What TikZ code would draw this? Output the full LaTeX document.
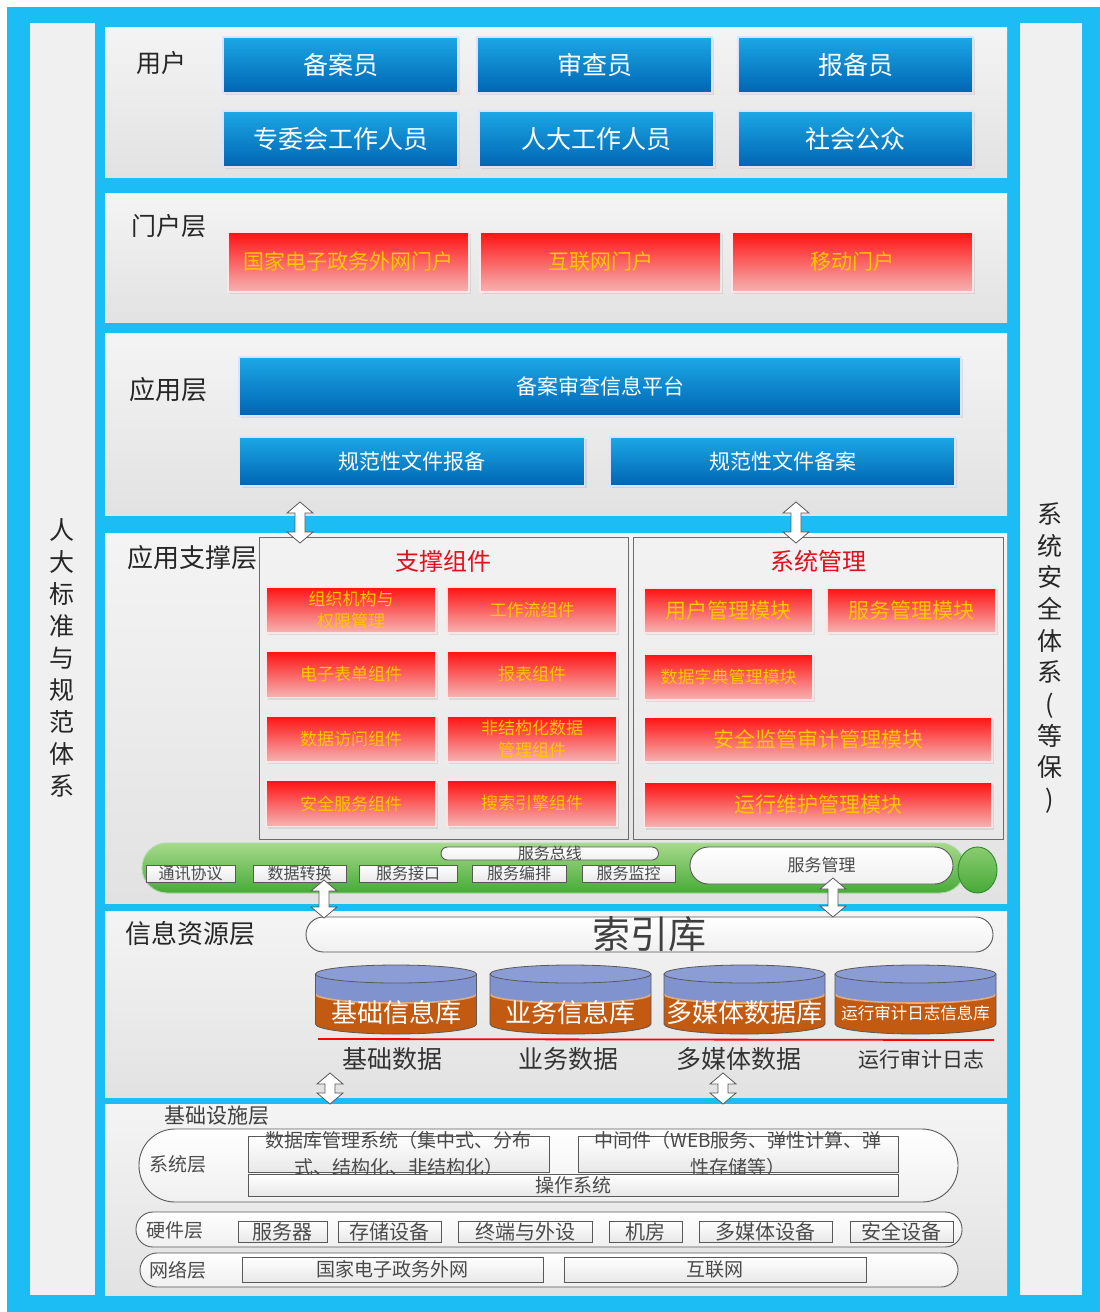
\documentclass[tikz,border=0pt]{standalone}
\usepackage{fontspec}
\setmainfont{Noto Sans CJK SC}
\usetikzlibrary{shapes.geometric,shadows}
\definecolor{frameblue}{HTML}{1CBDF4}
\definecolor{panelT}{HTML}{F4F4F4}
\definecolor{panelB}{HTML}{E2E2E2}
\definecolor{sidegray}{HTML}{F0F0F0}
\definecolor{blueT}{HTML}{1CA8E6}
\definecolor{blueB}{HTML}{0064B2}
\definecolor{redT}{HTML}{FF1212}
\definecolor{redB}{HTML}{F6B4B4}
\definecolor{yel}{HTML}{FFC800}
\definecolor{titlered}{HTML}{E3101C}
\definecolor{greenT}{HTML}{A6DA8A}
\definecolor{greenB}{HTML}{47AA37}
\definecolor{greenD}{HTML}{2E8B2A}
\definecolor{cylblue}{HTML}{8193CF}
\definecolor{cyltop}{HTML}{8C9DD6}
\definecolor{cylorange}{HTML}{C25A12}
\definecolor{cyltan}{HTML}{E2AC7E}
\definecolor{edge}{HTML}{595959}
\definecolor{txtgray}{HTML}{4A4A4A}
\newcommand\fs[2]{\fontsize{#1}{#2}\selectfont}
\newcommand\drum[4]{%
\begin{scope}[shift={(#1,0)}]
 \fill[cylblue] (-80.5,974) -- (-80.5,994) arc[start angle=180,end angle=360,x radius=80.5pt,y radius=9pt] -- (80.5,974) -- cycle;
 \fill[cylorange] (-80.5,994) arc[start angle=180,end angle=360,x radius=80.5pt,y radius=9pt] -- (80.5,1024) arc[start angle=0,end angle=-180,x radius=80.5pt,y radius=10pt] -- cycle;
 \draw[cyltan,line width=1.6pt] (-80.5,994) arc[start angle=180,end angle=360,x radius=80.5pt,y radius=9pt];
 \draw[edge,line width=0.8pt] (-80.5,974) -- (-80.5,1024) arc[start angle=180,end angle=360,x radius=80.5pt,y radius=10pt] -- (80.5,974);
 \draw[edge,line width=0.8pt,fill=cyltop] (0,974) ellipse[x radius=80.5pt,y radius=9pt];
 \node[text=white,font=\fs{#3}{#3}] (#2) at (0,1013) {#4};
\end{scope}}
% vertical block double arrow: name, x, ytop, ybottom
\newcommand\dar[4]{%
 \coordinate (#1) at (#2,{(#3+#4)/2});
 \draw[darrow] (#2,#3) -- ++(13,11) -- ++(-8,0) -- (#2+5,#4-11) -- ++(8,0) -- (#2,#4)
   -- ++(-13,-11) -- ++(8,0) -- (#2-5,#3+11) -- ++(-8,0) -- cycle;}
\begin{document}
\begin{tikzpicture}[x=1pt,y=-1pt,
 every node/.style={inner sep=0pt,outer sep=0pt},
 panel/.style={rectangle,top color=panelT,bottom color=panelB},
 sidebar/.style={rectangle,fill=sidegray},
 shade/.style={drop shadow={shadow xshift=2pt,shadow yshift=-2pt,opacity=0.18}},
 bbox/.style={rectangle,top color=blueT,bottom color=blueB,draw=white!88!blue,line width=1.2pt,text=white,shade},
 rbox/.style={rectangle,top color=redT,bottom color=redB,draw=white!90!red,line width=1.2pt,text=yel,align=center,shade},
 grp/.style={rectangle,draw=gray!85!black,line width=1pt,top color=F2col,bottom color=E8col},
 grptitle/.style={text=titlered,font=\fs{24}{28}},
 lbl/.style={text=black!85,font=\fs{25}{30}},
 wbox/.style={rectangle,draw=edge,line width=0.9pt,top color=white,bottom color=gray!18},
 wlab/.style={text=txtgray,align=center},
 pill/.style={draw=edge,line width=0.9pt,top color=white,bottom color=gray!12},
 darrow/.style={draw=edge,line width=0.8pt,fill=white,line join=miter},
]
\colorlet{F2col}{black!5}
\colorlet{E8col}{black!9}
\useasboundingbox (0,0) rectangle (1100,1312);
\fill[white] (0,0) rectangle (1100,1312);
\node[fill=frameblue,minimum width=1093pt,minimum height=1305pt] (frame) at (553.5,659.5) {};

% side bars
\node[sidebar,minimum width=65pt,minimum height=1272pt] (left) at (62.5,659) {};
\node[sidebar,minimum width=62pt,minimum height=1272pt] (right) at (1051,659) {};
\node[text=black!85,font=\fs{25}{32},align=center] (lefttxt) at (62,658) {人\\大\\标\\准\\与\\规\\范\\体\\系};
\node[text=black!85,font=\fs{25}{31.7},align=center] (righttxt) at (1050,658) {系\\统\\安\\全\\体\\系\\(\\等\\保\\)};

% panels
\node[panel,minimum width=902pt,minimum height=150pt] (pUser) at (556,102) {};
\node[panel,minimum width=902pt,minimum height=129pt] (pPortal) at (556,257.5) {};
\node[panel,minimum width=902pt,minimum height=182pt] (pApp) at (556,424) {};
\node[panel,minimum width=902pt,minimum height=370pt] (pSup) at (556,718) {};
\node[panel,minimum width=902pt,minimum height=186pt] (pInfo) at (556,1004) {};
\node[panel,minimum width=902pt,minimum height=191pt] (pInfra) at (556,1199.5) {};

% users
\node[lbl] (lUser) at (161,63) {用户};
\node[bbox,minimum width=235pt,minimum height=56pt,font=\fs{25}{30}] (u1) at (340.5,65) {备案员};
\node[bbox,minimum width=235pt,minimum height=56pt,font=\fs{25}{30}] (u2) at (594.5,65) {审查员};
\node[bbox,minimum width=235pt,minimum height=56pt,font=\fs{25}{30}] (u3) at (855.5,65) {报备员};
\node[bbox,minimum width=235pt,minimum height=56pt,font=\fs{25}{30}] (u4) at (340.5,139) {专委会工作人员};
\node[bbox,minimum width=235pt,minimum height=56pt,font=\fs{25}{30}] (u5) at (596.5,139) {人大工作人员};
\node[bbox,minimum width=235pt,minimum height=56pt,font=\fs{25}{30}] (u6) at (855.5,139) {社会公众};

% portal
\node[lbl] (lPortal) at (169,226) {门户层};
\node[rbox,minimum width=241pt,minimum height=60pt,font=\fs{21}{25}] (p1) at (348.5,262) {国家电子政务外网门户};
\node[rbox,minimum width=241pt,minimum height=60pt,font=\fs{21}{25}] (p2) at (600.5,262) {互联网门户};
\node[rbox,minimum width=241pt,minimum height=60pt,font=\fs{21}{25}] (p3) at (852.5,262) {移动门户};

% application
\node[lbl,font=\fs{26}{30}] (lApp) at (168,390) {应用层};
\node[bbox,minimum width=722pt,minimum height=59pt,font=\fs{21}{25}] (a0) at (600,386.5) {备案审查信息平台};
\node[bbox,minimum width=345pt,minimum height=49pt,font=\fs{21}{25}] (a1) at (412,461.5) {规范性文件报备};
\node[bbox,minimum width=345pt,minimum height=49pt,font=\fs{21}{25}] (a2) at (782.5,461.5) {规范性文件备案};

% support layer
\node[lbl,font=\fs{26}{30}] (lSup) at (192,558) {应用支撑层};
\node[grp,minimum width=369pt,minimum height=302pt] (g1) at (443.5,688) {};
\node[grp,minimum width=370pt,minimum height=302pt] (g2) at (818,688) {};
\node[grptitle] (g1t) at (443.5,561) {支撑组件};
\node[grptitle] (g2t) at (818,561) {系统管理};
\node[rbox,minimum width=170pt,minimum height=46pt,font=\fs{17}{22}] (s1) at (351,610) {组织机构与\\权限管理};
\node[rbox,minimum width=170pt,minimum height=46pt,font=\fs{17}{22}] (s2) at (532,610) {工作流组件};
\node[rbox,minimum width=170pt,minimum height=46pt,font=\fs{17}{22}] (s3) at (351,674.5) {电子表单组件};
\node[rbox,minimum width=170pt,minimum height=46pt,font=\fs{17}{22}] (s4) at (532,674.5) {报表组件};
\node[rbox,minimum width=170pt,minimum height=46pt,font=\fs{17}{22}] (s5) at (351,739) {数据访问组件};
\node[rbox,minimum width=170pt,minimum height=46pt,font=\fs{17}{22}] (s6) at (532,739) {非结构化数据\\管理组件};
\node[rbox,minimum width=170pt,minimum height=46pt,font=\fs{17}{22}] (s7) at (351,803.5) {安全服务组件};
\node[rbox,minimum width=170pt,minimum height=46pt,font=\fs{17}{22}] (s8) at (532,803.5) {搜索引擎组件};
\node[rbox,minimum width=169pt,minimum height=45pt,font=\fs{21}{25}] (m1) at (728.5,610.5) {用户管理模块};
\node[rbox,minimum width=169pt,minimum height=45pt,font=\fs{21}{25}] (m2) at (911.5,610.5) {服务管理模块};
\node[rbox,minimum width=169pt,minimum height=46pt,font=\fs{17}{22}] (m3) at (728.5,677) {数据字典管理模块};
\node[rbox,minimum width=348pt,minimum height=45pt,font=\fs{21}{25}] (m4) at (818,739.5) {安全监管审计管理模块};
\node[rbox,minimum width=348pt,minimum height=45pt,font=\fs{21}{25}] (m5) at (818,805) {运行维护管理模块};

% service bus
\node[rectangle,rounded corners=25pt,top color=greenT,bottom color=greenB,draw=white!55!greenB,line width=1pt,minimum width=823pt,minimum height=50pt] (bus) at (553.5,868) {};
\node[ellipse,top color=greenT!70!greenB,bottom color=greenB,draw=greenD,line width=0.9pt,minimum width=39pt,minimum height=46pt] (busEnd) at (977.5,870) {};
\node[pill,rounded corners=6.5pt,minimum width=217.5pt,minimum height=13pt,label={[wlab,font=\fs{16}{16}]center:服务总线}] (busLine) at (549.75,853.5) {};
\node[wbox,minimum width=89pt,minimum height=17pt,label={[wlab,font=\fs{16}{16}]center:通讯协议}] (b1) at (190.5,873.5) {};
\node[wbox,minimum width=93pt,minimum height=17pt,label={[wlab,font=\fs{16}{16}]center:数据转换}] (b2) at (299.5,873.5) {};
\node[wbox,minimum width=98pt,minimum height=17pt,label={[wlab,font=\fs{16}{16}]center:服务接口}] (b3) at (408,873.5) {};
\node[wbox,minimum width=94pt,minimum height=17pt,label={[wlab,font=\fs{16}{16}]center:服务编排}] (b4) at (519,873.5) {};
\node[wbox,minimum width=93pt,minimum height=17pt,label={[wlab,font=\fs{16}{16}]center:服务监控}] (b5) at (628.5,873.5) {};
\node[pill,rounded corners=18.5pt,minimum width=263pt,minimum height=37pt,label={[wlab,font=\fs{17}{17}]center:服务管理}] (svcMgr) at (821.5,865.5) {};

% information resource layer
\node[lbl,font=\fs{26}{30}] (lInfo) at (190,934) {信息资源层};
\node[pill,rounded corners=17.5pt,minimum width=687pt,minimum height=35pt,label={[text=black!75,font=\fs{38}{38}]center:索引库}] (idx) at (649.5,934.5) {};
\drum{396}{c1}{26}{基础信息库}
\drum{570.5}{c2}{26}{业务信息库}
\drum{744.5}{c3}{26}{多媒体数据库}
\drum{915.5}{c4}{16.5}{运行审计日志信息库}
\draw[red,line width=1.8pt] (318,1039) -- (994,1040);
\node[text=black!80,font=\fs{25}{30}] (d1) at (392.5,1059) {基础数据};
\node[text=black!80,font=\fs{25}{30}] (d2) at (568,1059) {业务数据};
\node[text=black!80,font=\fs{25}{30}] (d3) at (739,1059) {多媒体数据};
\node[text=black!80,font=\fs{21}{25}] (d4) at (921,1059) {运行审计日志};

% infrastructure
\node[text=black!75,font=\fs{21}{25}] (lInfra) at (217,1116) {基础设施层};
\node[pill,rounded corners=36pt,minimum width=819pt,minimum height=73pt] (sysL) at (548.5,1165.5) {};
\node[text=black!70,font=\fs{19}{22}] (sysT) at (178,1164) {系统层};
\node[wbox,minimum width=301pt,minimum height=36pt,label={[wlab,font=\fs{19}{27}]center:{数据库管理系统（集中式、分布\\式、结构化、非结构化）}}] (dbms) at (398.5,1154) {};
\node[wbox,minimum width=320pt,minimum height=36pt,label={[wlab,font=\fs{19}{27}]center:{中间件（WEB服务、弹性计算、弹\\性存储等）}}] (mw) at (738,1154) {};
\node[wbox,minimum width=650pt,minimum height=22pt,label={[wlab,font=\fs{19}{22}]center:操作系统}] (os) at (573,1185) {};
\node[pill,rounded corners=17pt,minimum width=826pt,minimum height=35pt] (hwL) at (549,1229.5) {};
\node[text=black!70,font=\fs{19}{22}] (hwT) at (175,1230) {硬件层};
\node[wbox,minimum width=89pt,minimum height=21pt,label={[wlab,font=\fs{20}{22}]center:服务器}] (h1) at (282.5,1231.5) {};
\node[wbox,minimum width=103pt,minimum height=21pt,label={[wlab,font=\fs{20}{22}]center:存储设备}] (h2) at (389.5,1231.5) {};
\node[wbox,minimum width=134pt,minimum height=21pt,label={[wlab,font=\fs{20}{22}]center:终端与外设}] (h3) at (525,1231.5) {};
\node[wbox,minimum width=73pt,minimum height=21pt,label={[wlab,font=\fs{20}{22}]center:机房}] (h4) at (645.5,1231.5) {};
\node[wbox,minimum width=133pt,minimum height=21pt,label={[wlab,font=\fs{20}{22}]center:多媒体设备}] (h5) at (765.5,1231.5) {};
\node[wbox,minimum width=103pt,minimum height=21pt,label={[wlab,font=\fs{20}{22}]center:安全设备}] (h6) at (901.5,1231.5) {};
\node[pill,rounded corners=17pt,minimum width=818pt,minimum height=34pt] (netL) at (549,1270) {};
\node[text=black!70,font=\fs{19}{22}] (netT) at (178,1270) {网络层};
\node[wbox,minimum width=301pt,minimum height=25pt,label={[wlab,font=\fs{19}{22}]center:国家电子政务外网}] (n1) at (392.5,1269.5) {};
\node[wbox,minimum width=302pt,minimum height=25pt,label={[wlab,font=\fs{19}{22}]center:互联网}] (n2) at (715,1269.5) {};

% double arrows
\dar{ar1}{300}{502}{543}
\dar{ar2}{796}{502}{543}
\dar{ar3}{324}{880}{918}
\dar{ar4}{833}{878}{917}
\dar{ar5}{330}{1073}{1104}
\dar{ar6}{723}{1073}{1104}
\end{tikzpicture}
\end{document}
